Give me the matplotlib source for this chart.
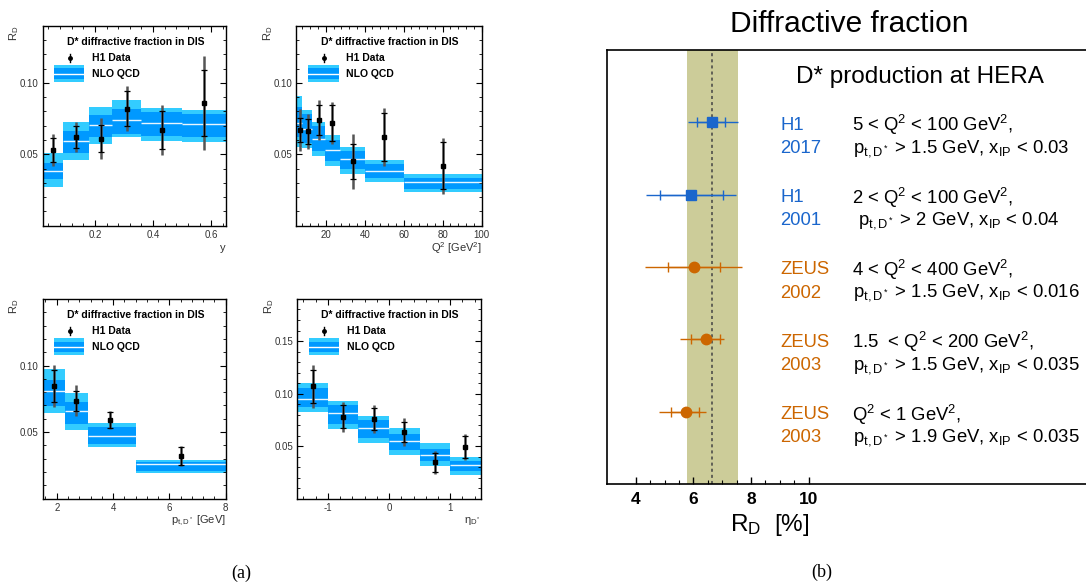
import numpy as np
import matplotlib
matplotlib.use('Agg')
from matplotlib import pyplot as plt
from matplotlib.ticker import FixedLocator, MultipleLocator

plt.rcParams['font.family'] = ['Liberation Sans', 'DejaVu Sans']
plt.rcParams['mathtext.fontset'] = 'custom'
plt.rcParams['mathtext.rm'] = 'Liberation Sans'
plt.rcParams['mathtext.it'] = 'Liberation Sans:italic'
plt.rcParams['mathtext.bf'] = 'Liberation Sans:bold'
plt.rcParams['axes.unicode_minus'] = False

############################
### (a) H1 2017 differential
############################
y_edges = [0.02, 0.09, 0.18, 0.26, 0.36, 0.50, 0.65]
y_nlo = [0.0386, 0.0593, 0.0705, 0.0738, 0.0721, 0.0710]
y_in_lo = [0.0327, 0.0511, 0.0623, 0.0644, 0.0628, 0.0623]
y_in_hi = [0.0441, 0.0663, 0.0773, 0.0817, 0.0798, 0.0784]
y_out_lo = [0.0273, 0.0460, 0.0572, 0.0623, 0.0593, 0.0586]
y_out_hi = [0.0507, 0.0726, 0.0831, 0.0880, 0.0824, 0.0810]
y_x = [0.054, 0.135, 0.22, 0.31, 0.43, 0.575]
y_rd = [0.053, 0.062, 0.061, 0.082, 0.067, 0.086]
y_stat = [0.0084, 0.0078, 0.0093, 0.0122, 0.0134, 0.0233]
y_tot = [0.011, 0.0107, 0.0145, 0.0157, 0.0172, 0.033]

q2_edges = [5, 8, 13, 19.5, 27.5, 40, 60, 100]
q2_nlo = [0.072, 0.0677, 0.0605, 0.0528, 0.0465, 0.0385, 0.0304]
q2_in_lo = [0.062, 0.0577, 0.0525, 0.0453, 0.0397, 0.0332, 0.0259]
q2_in_hi = [0.083, 0.078, 0.070, 0.060, 0.0523, 0.0432, 0.0336]
q2_out_lo = [0.055, 0.0542, 0.049, 0.042, 0.0364, 0.0308, 0.0238]
q2_out_hi = [0.091, 0.081, 0.0724, 0.0635, 0.0553, 0.046, 0.036]
q2_x = [6.8, 10.9, 16.4, 23.4, 34, 50, 80]
q2_rd = [0.067, 0.066, 0.074, 0.072, 0.045, 0.062, 0.042]
q2_stat = [0.0086, 0.0087, 0.0104, 0.0124, 0.0123, 0.017, 0.0164]
q2_tot = [0.0145, 0.012, 0.014, 0.0145, 0.019, 0.0205, 0.0195]

pt_edges = [1.5, 2.3, 3.1, 4.8, 8.0]
pt_nlo = [0.0807, 0.0659, 0.0473, 0.0258]
pt_in_lo = [0.0699, 0.0561, 0.0411, 0.021]
pt_in_hi = [0.0892, 0.0727, 0.0539, 0.0278]
pt_out_lo = [0.0646, 0.0516, 0.039, 0.0195]
pt_out_hi = [0.0974, 0.0794, 0.0569, 0.0291]
pt_x = [1.9, 2.7, 3.9, 6.4]
pt_rd = [0.0845, 0.0736, 0.059, 0.032]
pt_stat = [0.012, 0.0076, 0.006, 0.0068]
pt_tot = [0.0156, 0.0117, 0.007, 0.0076]

eta_edges = [-1.5, -1.0, -0.5, 0.0, 0.5, 1.0, 1.5]
eta_nlo = [0.0949, 0.0812, 0.067, 0.0549, 0.0413, 0.0321]
eta_in_lo = [0.087, 0.0711, 0.0578, 0.046, 0.0356, 0.0264]
eta_in_hi = [0.1053, 0.0894, 0.0749, 0.0613, 0.047, 0.0362]
eta_out_lo = [0.0828, 0.0663, 0.053, 0.0416, 0.0311, 0.0226]
eta_out_hi = [0.110, 0.093, 0.0787, 0.0676, 0.0533, 0.0397]
eta_x = [-1.25, -0.75, -0.25, 0.25, 0.75, 1.25]
eta_rd = [0.107, 0.078, 0.076, 0.0635, 0.0346, 0.049]
eta_stat = [0.0156, 0.0108, 0.0106, 0.0094, 0.009, 0.0104]
eta_tot = [0.0205, 0.0143, 0.0132, 0.0129, 0.011, 0.0124]

############################
### (b) summary of measurements
############################
exp_names = ['H1', 'H1', 'ZEUS', 'ZEUS', 'ZEUS']
exp_years = ['2017', '2001', '2002', '2003', '2003']
exp_rd = [6.63, 5.93, 6.01, 6.42, 5.73]
exp_stat_lo = [0.50, 1.09, 0.89, 0.50, 0.50]
exp_stat_hi = [0.48, 1.10, 0.92, 0.51, 0.48]
exp_tot_lo = [0.81, 1.56, 1.70, 0.89, 0.91]
exp_tot_hi = [0.90, 1.56, 1.66, 0.65, 0.69]
exp_line1 = ['5 < Q$^2$ < 100 GeV$^2$,',
             '2 < Q$^2$ < 100 GeV$^2$,',
             '4 < Q$^2$ < 400 GeV$^2$,',
             '1.5  < Q$^2$ < 200 GeV$^2$,',
             'Q$^2$ < 1 GeV$^2$,']
exp_line2 = [r'p$_{\mathrm{t,D^*}}$ > 1.5 GeV, x$_{\mathrm{IP}}$ < 0.03',
             r' p$_{\mathrm{t,D^*}}$ > 2 GeV, x$_{\mathrm{IP}}$ < 0.04',
             r'p$_{\mathrm{t,D^*}}$ > 1.5 GeV, x$_{\mathrm{IP}}$ < 0.016',
             r'p$_{\mathrm{t,D^*}}$ > 1.5 GeV, x$_{\mathrm{IP}}$ < 0.035',
             r'p$_{\mathrm{t,D^*}}$ > 1.9 GeV, x$_{\mathrm{IP}}$ < 0.035']
avg_rd = 6.63
avg_lo = 5.79
avg_hi = 7.53

H1_COL = '#1a66cc'
ZEUS_COL = '#cc6600'
LIGHT = '#33ccff'
DARK = '#0099ff'

fig = plt.figure(figsize=(10.86, 5.86), dpi=100)


def diff_panel(pos, edges, nlo, in_lo, in_hi, out_lo, out_hi, xs, rd, stat, tot,
               ymax, yticks, xmajor, xminor, xticks, xlabel):
    ax = fig.add_axes(pos)
    edges = np.array(edges)
    left = edges[:-1]
    width = np.diff(edges)
    ax.bar(left, np.array(out_hi) - np.array(out_lo), width=width, bottom=out_lo,
           align='edge', color=LIGHT, lw=0)
    ax.bar(left, np.array(in_hi) - np.array(in_lo), width=width, bottom=in_lo,
           align='edge', color=DARK, lw=0)
    ax.hlines(nlo, left, edges[1:], color='#e8f6ff', lw=1)
    ax.errorbar(xs, rd, yerr=tot, fmt='none', ecolor='#555555', elinewidth=1.8)
    ax.errorbar(xs, rd, yerr=stat, fmt='s', color='black', ms=3, elinewidth=0.9,
                capsize=2.5, capthick=0.9)
    ax.set_xlim(edges[0], edges[-1])
    ax.set_ylim(0, ymax)
    ax.yaxis.set_major_locator(FixedLocator(yticks))
    ax.yaxis.set_minor_locator(MultipleLocator(0.01))
    ax.set_yticklabels(['%.2f' % v for v in yticks])
    ax.xaxis.set_major_locator(FixedLocator(xmajor))
    ax.xaxis.set_minor_locator(MultipleLocator(xminor))
    ax.set_xticklabels(xticks)
    ax.tick_params(which='both', direction='in', top=True, right=True,
                   labelsize=7, labelcolor='#333333', pad=3)
    ax.tick_params(which='major', length=4.5, width=0.8)
    ax.tick_params(which='minor', length=2.5, width=0.6)
    for s in ax.spines.values():
        s.set_linewidth(1.0)
    # legend drawn by hand, ROOT style
    ax.text(0.131, 0.92, 'D* diffractive fraction in DIS', transform=ax.transAxes,
            fontsize=7.5, fontweight='bold', va='center', ha='left')
    ax.plot([0.148], [0.8385], 'o', color='black', ms=2.5, transform=ax.transAxes)
    ax.plot([0.148, 0.148], [0.818, 0.859], color='black', lw=1, transform=ax.transAxes)
    ax.text(0.269, 0.8385, 'H1 Data', transform=ax.transAxes,
            fontsize=7.5, fontweight='bold', va='center', ha='left')
    ax.add_patch(plt.Rectangle((0.063, 0.72), 0.164, 0.0835, color=LIGHT, lw=0,
                               transform=ax.transAxes))
    ax.add_patch(plt.Rectangle((0.063, 0.7335), 0.164, 0.0535, color=DARK, lw=0,
                               transform=ax.transAxes))
    ax.plot([0.063, 0.227], [0.7585, 0.7585], color='white', lw=1, transform=ax.transAxes)
    ax.text(0.268, 0.7585, 'NLO QCD', transform=ax.transAxes,
            fontsize=7.5, fontweight='bold', va='center', ha='left')
    ax.text(-0.155, 1.0, 'R$_\\mathrm{D}$', rotation=90, transform=ax.transAxes,
            fontsize=8, ha='center', va='top', color='#333333')
    ax.text(1.0, -0.11, xlabel, transform=ax.transAxes, fontsize=8,
            ha='right', va='center', color='#333333')
    return ax


diff_panel([0.0393, 0.6148, 0.1685, 0.3413], y_edges, y_nlo, y_in_lo, y_in_hi,
           y_out_lo, y_out_hi, y_x, y_rd, y_stat, y_tot, 0.14, [0.05, 0.10],
           [0.2, 0.4, 0.6], 0.04, ['0.2', '0.4', '0.6'], 'y')
diff_panel([0.273, 0.6148, 0.1705, 0.3413], q2_edges, q2_nlo, q2_in_lo, q2_in_hi,
           q2_out_lo, q2_out_hi, q2_x, q2_rd, q2_stat, q2_tot, 0.14, [0.05, 0.10],
           [20, 40, 60, 80, 100], 4, ['20', '40', '60', '80', '100'],
           'Q$^2$ [GeV$^2$]')
diff_panel([0.0393, 0.149, 0.1685, 0.3408], pt_edges, pt_nlo, pt_in_lo, pt_in_hi,
           pt_out_lo, pt_out_hi, pt_x, pt_rd, pt_stat, pt_tot, 0.15, [0.05, 0.10],
           [2, 4, 6, 8], 0.4, ['2', '4', '6', '8'],
           r'p$_{\mathrm{t,D^*}}$ [GeV]')
diff_panel([0.2738, 0.149, 0.1689, 0.3408], eta_edges, eta_nlo, eta_in_lo, eta_in_hi,
           eta_out_lo, eta_out_hi, eta_x, eta_rd, eta_stat, eta_tot, 0.19,
           [0.05, 0.10, 0.15], [-1, 0, 1], 0.2, ['-1', '0', '1'],
           r'η$_{\mathrm{D^*}}$')

######################
### (b)
######################
axb = fig.add_axes([0.5589, 0.1741, 0.4512, 0.7406])
axb.set_xlim(3, 20)
axb.set_ylim(0, 6)
rows = np.arange(len(exp_rd), 0, -1)
axb.axvspan(avg_lo, avg_hi, color='#cccc99', lw=0)
axb.axvline(avg_rd, color='#444444', ls=(0, (2, 2)), lw=1.1)
for i in range(len(exp_rd)):
    col = H1_COL if exp_names[i] == 'H1' else ZEUS_COL
    mk = 's' if exp_names[i] == 'H1' else 'o'
    axb.errorbar([exp_rd[i]], [rows[i]], xerr=[[exp_tot_lo[i]], [exp_tot_hi[i]]],
                 fmt='none', ecolor=col, elinewidth=1)
    axb.errorbar([exp_rd[i]], [rows[i]], xerr=[[exp_stat_lo[i]], [exp_stat_hi[i]]],
                 fmt=mk, color=col, ms=7.5, elinewidth=1, capsize=3.8, capthick=1)
    axb.text(9.02, rows[i] - 0.04, exp_names[i], color=col, fontsize=13.3,
             ha='left', va='center')
    axb.text(9.02, rows[i] - 0.36, exp_years[i], color=col, fontsize=13.3,
             ha='left', va='center')
    axb.text(11.5, rows[i] - 0.04, exp_line1[i], fontsize=13.3, ha='left', va='center')
    axb.text(11.55, rows[i] - 0.36, exp_line2[i], fontsize=13.3, ha='left', va='center')
axb.text(13.87, 5.63, 'D* production at HERA', fontsize=17.5, ha='center', va='center')
axb.set_yticks([])
axb.xaxis.set_major_locator(FixedLocator([4, 6, 8, 10]))
axb.xaxis.set_minor_locator(FixedLocator(np.arange(4.5, 10, 0.5)))
axb.set_xticklabels(['4', '6', '8', '10'])
axb.tick_params(which='both', direction='in', labelsize=12.5, pad=6)
axb.tick_params(which='major', length=5, width=1)
axb.tick_params(which='minor', length=3, width=0.8)
for lab in axb.get_xticklabels():
    lab.set_fontweight('bold')
axb.spines['right'].set_visible(False)
for s in ['left', 'top', 'bottom']:
    axb.spines[s].set_linewidth(1.2)

fig.text(849 / 1086, 1 - 24 / 586, 'Diffractive fraction', fontsize=21.5,
         ha='center', va='center')
fig.text(770 / 1086, 1 - 525 / 586, 'R$_\\mathrm{D}$  [%]', fontsize=17.5,
         ha='center', va='center')
fig.text(241 / 1086, 1 - 573 / 586, '(a)', fontsize=13, family='Liberation Serif',
         ha='center', va='center')
fig.text(822 / 1086, 1 - 572 / 586, '(b)', fontsize=13, family='Liberation Serif',
         ha='center', va='center')

plt.savefig('out.png', dpi=100)
